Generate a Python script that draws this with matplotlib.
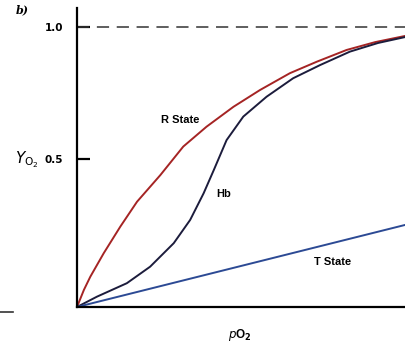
import matplotlib
matplotlib.use("Agg")
import matplotlib.pyplot as plt
from matplotlib.lines import Line2D

# pO2 (arbitrary units, 0-100) and fractional saturation
r_x = [0, 2.1, 4.05, 8.14, 13.2, 18.3, 25.4, 32.4, 39.5, 47.7, 55.8, 64.9, 73.1, 82.2, 90.9, 100]
r_y = [0, 0.061, 0.108, 0.192, 0.287, 0.376, 0.471, 0.573, 0.644, 0.715, 0.775, 0.835, 0.876, 0.918, 0.946, 0.968]

hb_x = [0, 6.1, 15.2, 22.3, 29.5, 34.5, 38.6, 41.7, 45.6, 50.7, 57.8, 65.9, 74.1, 83.2, 91.8, 100]
hb_y = [0, 0.037, 0.085, 0.144, 0.228, 0.311, 0.406, 0.489, 0.596, 0.680, 0.751, 0.817, 0.864, 0.912, 0.943, 0.964]

t_x = [0, 100]
t_y = [0, 0.293]

ytick_pos = [0.529, 1.0]
ytick_labels = ['0.5', '1.0']

fig = plt.figure(figsize=(4.05, 3.51), dpi=100)
ax = fig.add_axes([77 / 405, 44 / 351, 1 - 77 / 405, (307 - 8) / 351])
ax.set_xlim(0, 100)
ax.set_ylim(0, (307 - 8) / 280)

ax.plot(r_x, r_y, color='#a52424', lw=1.4)
ax.plot(hb_x, hb_y, color='#1c1c3c', lw=1.4)
ax.plot(t_x, t_y, color='#2c4a94', lw=1.4)
ax.axhline(1.0, color='#333333', lw=1.1, dashes=(8, 5))

for s in ['top', 'right']:
    ax.spines[s].set_visible(False)
for s in ['left', 'bottom']:
    ax.spines[s].set_linewidth(1.6)
ax.set_xticks([])
ax.set_yticks(ytick_pos)
ax.set_yticklabels(ytick_labels, fontsize=7.5, fontweight='bold', family='DejaVu Sans')
ax.tick_params(axis='y', direction='in', length=9, width=1.6, pad=10)

lbl = dict(fontsize=8, fontweight='bold', family='Liberation Sans', ha='center', va='center')
ax.text(31.4, 0.668, 'R State', **lbl)
ax.text(44.8, 0.404, 'Hb', **lbl)
ax.text(78.0, 0.161, 'T State', **lbl)

fig.text(22 / 405, 1 - 10 / 351, 'b)', fontsize=8, fontweight='bold', style='italic',
         family='DejaVu Serif', ha='center', va='center')
fig.text(27 / 405, 1 - 160 / 351, r'$Y_{\mathrm{O_2}}$', fontsize=11,
         family='DejaVu Serif', ha='center', va='center')
fig.text(240 / 405, 1 - 335 / 351, r'$p$O$_\mathbf{2}$', fontsize=8.5, fontweight='bold',
         family='Liberation Sans', ha='center', va='center')

fig.add_artist(Line2D([0, 13 / 405], [1 - 312 / 351, 1 - 312 / 351],
                      transform=fig.transFigure, color='#333333', lw=1.2))

fig.savefig('out.png', dpi=100)
